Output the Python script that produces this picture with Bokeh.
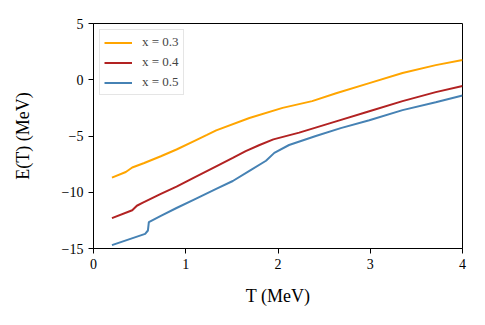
from bokeh.plotting import figure
from bokeh.models import Range1d, FixedTicker, Legend, LegendItem
from bokeh.embed import file_html
from bokeh.resources import INLINE

# --- data ---
T_03 = [0.2, 0.35, 0.42, 0.55, 0.73, 0.9, 1.09, 1.23, 1.33, 1.69, 2.05, 2.37, 2.63, 2.99, 3.35, 3.71, 4.0]
E_03 = [-8.7, -8.2, -7.8, -7.4, -6.8, -6.2, -5.45, -4.9, -4.5, -3.4, -2.5, -1.9, -1.2, -0.3, 0.6, 1.3, 1.75]

T_04 = [0.2, 0.42, 0.47, 0.53, 0.73, 0.9, 1.09, 1.33, 1.51, 1.65, 1.8, 1.95, 2.23, 2.63, 2.99, 3.35, 3.71, 4.0]
E_04 = [-12.3, -11.6, -11.2, -10.95, -10.15, -9.5, -8.7, -7.7, -6.95, -6.35, -5.8, -5.3, -4.7, -3.7, -2.8, -1.9, -1.1, -0.55]

T_05 = [0.2, 0.56, 0.59, 0.6, 0.73, 0.9, 1.09, 1.33, 1.51, 1.69, 1.87, 1.96, 2.12, 2.41, 2.68, 2.99, 3.35, 3.71, 4.0]
E_05 = [-14.7, -13.7, -13.4, -12.65, -12.1, -11.4, -10.65, -9.7, -9.0, -8.1, -7.2, -6.5, -5.8, -5.0, -4.3, -3.6, -2.7, -2.0, -1.4]

series_labels = ["x = 0.3", "x = 0.4", "x = 0.5"]
series_colors = ["#FFA500", "#B22222", "#4682B4"]

x_ticks = [0, 1, 2, 3, 4]
x_tick_labels = ["0", "1", "2", "3", "4"]
y_ticks = [-15, -10, -5, 0, 5]
y_tick_labels = ["\u221215", "\u221210", "\u22125", "0", "5"]

FONT = "Liberation Serif"

p = figure(
    frame_width=369, frame_height=225,
    x_range=Range1d(0, 4), y_range=Range1d(-15, 5),
    output_backend="svg", toolbar_location=None,
    min_border_left=93, min_border_right=15, min_border_top=23, min_border_bottom=69,
    background_fill_color="white", border_fill_color="white",
)
p.outline_line_color = "black"
p.outline_line_width = 1
p.outline_line_alpha = 1
p.xgrid.visible = False
p.ygrid.visible = False

renderers = []
for T, E, c in zip([T_03, T_04, T_05], [E_03, E_04, E_05], series_colors):
    r = p.line(T, E, line_color=c, line_width=2.0)
    renderers.append(r)

for ax in (p.xaxis[0], p.yaxis[0]):
    ax.axis_line_color = "black"
    ax.axis_line_width = 1
    ax.major_tick_line_color = "black"
    ax.major_tick_out = 5
    ax.major_tick_in = 0
    ax.minor_tick_line_color = None
    ax.major_label_text_font = FONT
    ax.major_label_text_font_size = "14px"
    ax.major_label_text_color = "black"
    ax.axis_label_text_font = FONT
    ax.axis_label_text_font_size = "18px"
    ax.axis_label_text_font_style = "normal"
    ax.axis_label_text_color = "black"
    ax.major_label_standoff = 5

p.xaxis[0].ticker = FixedTicker(ticks=x_ticks)
p.xaxis[0].major_label_overrides = dict(zip(x_ticks, x_tick_labels))
p.yaxis[0].ticker = FixedTicker(ticks=y_ticks)
p.yaxis[0].major_label_overrides = dict(zip(y_ticks, y_tick_labels))
p.xaxis[0].axis_label = "T (MeV)"
p.yaxis[0].axis_label = "E(T) (MeV)"
p.xaxis[0].axis_label_standoff = 14
p.yaxis[0].axis_label_standoff = 26

legend = Legend(
    items=[LegendItem(label=l, renderers=[r]) for l, r in zip(series_labels, renderers)],
    location="top_left",
    label_text_font=FONT, label_text_font_size="13px",
    glyph_width=28, glyph_height=15, spacing=4, padding=4, margin=6,
    label_standoff=10, label_height=15,
    border_line_color="#cccccc", border_line_width=1.5,
    background_fill_alpha=0.8,
)
p.add_layout(legend)

open("out.html", "w").write(file_html(p, INLINE))
